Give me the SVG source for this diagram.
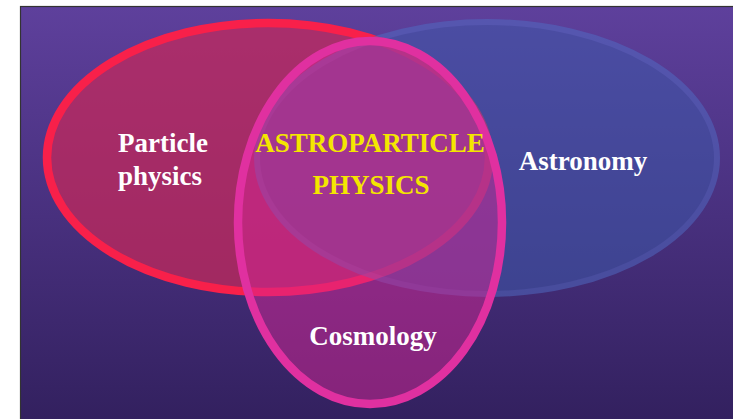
<svg xmlns="http://www.w3.org/2000/svg" width="733" height="419" viewBox="0 0 733 419">
  <defs>
    <linearGradient id="bg" x1="0" y1="0" x2="0" y2="1">
      <stop offset="0" stop-color="#5E409C"/>
      <stop offset="0.5" stop-color="#48307E"/>
      <stop offset="1" stop-color="#32205E"/>
    </linearGradient>
  </defs>
  <style>
    .lbl { font-family: "Liberation Serif", "Times New Roman", serif; font-weight: bold; font-size: 27px; }
    .white { fill: #FFFFFF; }
    .yellow { fill: #F4E600; }
  </style>
  <rect x="0" y="0" width="733" height="419" fill="#FFFFFF"/>
  <rect x="20.5" y="6.5" width="720" height="420" fill="url(#bg)" stroke="#333333" stroke-width="1.2"/>

  <g id="particle-physics">
    <ellipse cx="268" cy="157.5" rx="221" ry="134.5" fill="rgb(200,40,90)" fill-opacity="0.72" stroke="#F8204A" stroke-width="8.5"/>
    <text class="lbl white" x="118" y="152">Particle</text>
    <text class="lbl white" x="118" y="185">physics</text>
  </g>

  <g id="astronomy">
    <ellipse cx="487" cy="158" rx="230" ry="136" fill="rgb(60,90,172)" stroke="rgb(80,108,196)" stroke-width="6" opacity="0.52"/>
    <text class="lbl white" x="583" y="170" text-anchor="middle">Astronomy</text>
  </g>

  <g id="cosmology">
    <ellipse cx="370" cy="222.5" rx="132" ry="181.5" fill="rgb(216,38,148)" fill-opacity="0.5" stroke="#E030A0" stroke-width="8.5"/>
    <text class="lbl white" x="373" y="345" text-anchor="middle">Cosmology</text>
  </g>

  <g id="astroparticle-physics">
    <text class="lbl yellow" x="370" y="152" text-anchor="middle">ASTROPARTICLE</text>
    <text class="lbl yellow" x="371" y="194" text-anchor="middle">PHYSICS</text>
  </g>

  <g id="connectors"></g>
</svg>
